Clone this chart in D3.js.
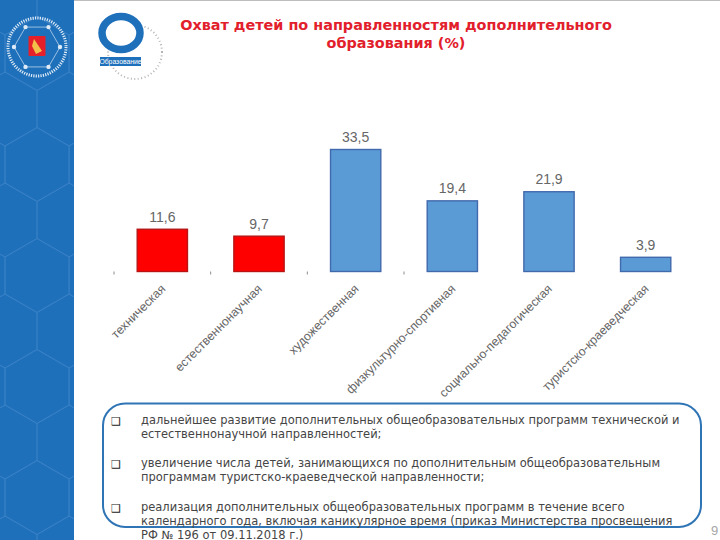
<!DOCTYPE html>
<html>
<head>
<meta charset="utf-8">
<style>
  html, body { margin: 0; padding: 0; background: #fff; }
  svg { display: block; }
</style>
<script src="https://cdn.jsdelivr.net/npm/d3@7"></script>
</head>
<body>
<svg id="chart" width="720" height="540"></svg>
<script>
const categories = ["техническая", "естественнонаучная", "художественная",
  "физкультурно-спортивная", "социально-педагогическая", "туристско-краеведческая"]
const values = [11.6, 9.7, 33.5, 19.4, 21.9, 3.9]
const highlighted = ["техническая", "естественнонаучная"]
const titleLines = ["Охват детей по направленностям дополнительного", "образования (%)"]
const bullets = [
  ["дальнейшее развитие дополнительных общеобразовательных программ технической и",
   "естественнонаучной направленностей;"],
  ["увеличение числа детей, занимающихся по дополнительным общеобразовательным",
   "программам туристско-краеведческой направленности;"],
  ["реализация дополнительных общеобразовательных программ в течение всего",
   "календарного года, включая каникулярное время (приказ Министерства просвещения",
   "РФ № 196 от 09.11.2018 г.)"]
]

const svg = d3.select("#chart")
const bodyFont = "'DejaVu Sans', Verdana, sans-serif"
const chartFont = "'Liberation Sans', Arial, sans-serif"

// top edge of the slide
svg.append("rect").attr("width", 720).attr("height", 1).attr("fill", "#bdbdbd")

// left band with hexagon pattern
svg.append("clipPath").attr("id", "side-clip")
  .append("rect").attr("width", 74).attr("height", 540)
const side = svg.append("g").attr("clip-path", "url(#side-clip)")
side.append("rect").attr("width", 74).attr("height", 540).attr("fill", "#1f70ba")
const hexR = 37
const hexPoints = (r, start) => d3.range(7).map(i => {
  const a = Math.PI / 3 * i + start
  return [r * Math.cos(a), r * Math.sin(a)]
})
const hexW = hexR * Math.sqrt(3)
d3.range(0, 11).forEach(row => {
  d3.range(-1, 3).forEach(col => {
    side.append("path")
      .attr("d", d3.line()(hexPoints(hexR, -Math.PI / 2)))
      .attr("transform", `translate(${col * hexW + (row % 2 ? hexW / 2 : 0) + 5},${row * hexR * 1.5 - 2})`)
      .attr("fill", "none")
      .attr("stroke", "#3a82c6")
      .attr("stroke-width", 0.8)
  })
})

// round emblem on the band
const emblem = side.append("g").attr("transform", "translate(37,47)")
emblem.append("circle").attr("r", 29).attr("fill", "none")
  .attr("stroke", "#dfebf7").attr("stroke-width", 3).attr("stroke-dasharray", "1.2 1.2")
emblem.append("path")
  .attr("d", d3.line()(hexPoints(23, 0)))
  .attr("fill", "none").attr("stroke", "#cfe1f3").attr("stroke-width", 0.7)
d3.range(6).forEach(i => {
  const a = Math.PI / 3 * i
  emblem.append("circle").attr("cx", 23 * Math.cos(a)).attr("cy", 23 * Math.sin(a))
    .attr("r", 2.2).attr("fill", "#dfebf7")
})
emblem.append("rect").attr("x", -8.5).attr("y", -11).attr("width", 17).attr("height", 20)
  .attr("rx", 1).attr("fill", "#e5202a")
emblem.append("path").attr("d", "M-3,-8 L5,4 L-1,7 L-5,-1 Z").attr("fill", "#f2c04a")

// logo
const logo = svg.append("g")
logo.append("circle").attr("cx", 135).attr("cy", 52).attr("r", 27).attr("fill", "none")
  .attr("stroke", "#b5b5b5").attr("stroke-width", 2).attr("stroke-dasharray", "1 2.5")
logo.append("ellipse").attr("cx", 121).attr("cy", 33).attr("rx", 19).attr("ry", 16.5).attr("fill", "#fff")
  .attr("stroke", "#1f70ba").attr("stroke-width", 7.5)
logo.append("rect").attr("x", 100).attr("y", 57).attr("width", 41).attr("height", 9).attr("fill", "#1f70ba")
logo.append("text").attr("x", 120.5).attr("y", 64).attr("text-anchor", "middle")
  .attr("font-family", chartFont).attr("font-size", 6.8).attr("fill", "#fff").text("Образование")

// title
svg.append("g").selectAll("text").data(titleLines).join("text")
  .attr("x", 396)
  .attr("y", (d, i) => 30 + i * 18)
  .attr("text-anchor", "middle")
  .attr("font-family", bodyFont)
  .attr("font-weight", "bold")
  .attr("font-size", 14.4)
  .attr("fill", "#e2202c")
  .text(d => d)

// chart
const baseline = 271.5
const x = d3.scaleBand()
  .domain(categories)
  .range([114, 694])
  .paddingInner(0.48)
  .paddingOuter(0.24)
const y = d3.scaleLinear()
  .domain([0, 33.5])
  .range([baseline, 149.5])

const g = svg.append("g")

g.selectAll("rect.bar").data(categories).join("rect")
  .attr("class", "bar")
  .attr("x", d => x(d))
  .attr("y", (d, i) => y(values[i]))
  .attr("width", x.bandwidth())
  .attr("height", (d, i) => baseline - y(values[i]))
  .attr("fill", d => highlighted.includes(d) ? "#ff0000" : "#5b9bd5")
  .attr("stroke", d => highlighted.includes(d) ? "#b81414" : "#4169ad")
  .attr("stroke-width", 1.4)

g.selectAll("text.value").data(categories).join("text")
  .attr("class", "value")
  .attr("x", d => x(d) + x.bandwidth() / 2)
  .attr("y", (d, i) => y(values[i]) - 7.5)
  .attr("text-anchor", "middle")
  .attr("font-family", chartFont)
  .attr("font-size", 14)
  .attr("fill", "#666")
  .text((d, i) => String(values[i]).replace(".", ","))

// short ticks between the bars, only the first four show in the original
g.selectAll("line.sep").data(categories.slice(0, 4)).join("line")
  .attr("class", "sep")
  .attr("x1", d => x(d) - x.step() * x.paddingInner() / 2)
  .attr("x2", d => x(d) - x.step() * x.paddingInner() / 2)
  .attr("y1", baseline)
  .attr("y2", baseline + 3)
  .attr("stroke", "#8c8c8c")

const axis = g.append("g")
  .attr("transform", `translate(0,${baseline})`)
  .call(d3.axisBottom(x).tickSize(0))
axis.select(".domain").remove()
axis.selectAll("text")
  .attr("font-family", chartFont)
  .attr("font-size", 12.3)
  .attr("fill", "#666")
  .attr("text-anchor", "end")
  .attr("dx", "-10px")
  .attr("dy", "0.6em")
  .attr("y", 8)
  .attr("transform", "rotate(-45)")

// box with the text list
svg.append("rect")
  .attr("x", 103).attr("y", 403.5).attr("width", 598).attr("height", 123.5)
  .attr("rx", 22)
  .attr("fill", "#fff")
  .attr("stroke", "#2f75b5")
  .attr("stroke-width", 2)

const lineY = [[424, 438], [467, 481], [511, 525, 538.5]]
const list = svg.append("g").attr("font-family", bodyFont).attr("fill", "#454545")
bullets.forEach((lines, i) => {
  list.append("text")
    .attr("x", 111).attr("y", lineY[i][0] + 0.5)
    .attr("font-size", 11).attr("fill", "#222")
    .text("❑")
  lines.forEach((t, j) => {
    list.append("text")
      .attr("x", 141).attr("y", lineY[i][j])
      .attr("font-size", 11.47)
      .text(t)
  })
})

// page number
svg.append("text").attr("x", 711).attr("y", 535)
  .attr("font-family", chartFont).attr("font-size", 13).attr("fill", "#a6a6a6").text("9")
</script>
</body>
</html>
